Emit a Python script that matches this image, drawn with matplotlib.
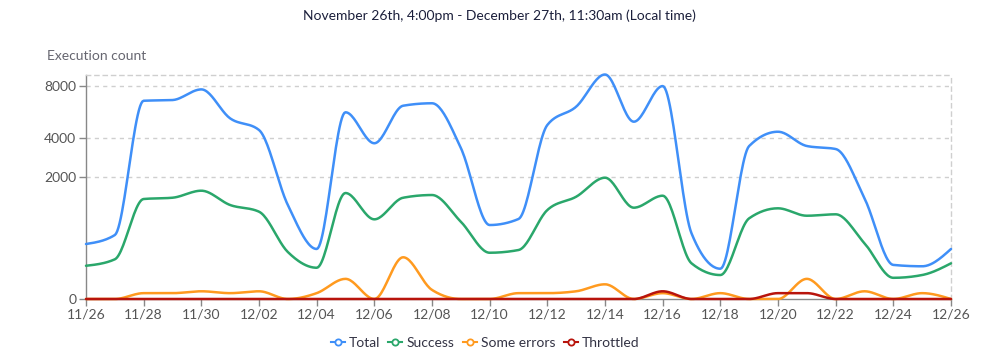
import numpy as np
import pandas as pd
import matplotlib
matplotlib.use("Agg")
import matplotlib.pyplot as plt
import matplotlib.dates as mdates
from matplotlib.lines import Line2D

# ---------------- data ----------------
dates = pd.date_range("2023-11-26", "2023-12-26", freq="D")
total = [271, 396, 6690, 6750, 7690, 5300, 4490, 1035, 214, 5760, 3660, 6280, 6480,
         3390, 569, 692, 4830, 6200, 9130, 5060, 8000, 423, 61, 3500, 4375, 3500,
         3330, 1230, 82, 74, 214]
success = [77, 120, 1209, 1248, 1476, 1035, 861, 183, 66, 1398, 685, 1248, 1333,
           635, 176, 203, 903, 1279, 1959, 963, 1311, 92, 34, 707, 947, 765,
           798, 280, 25, 34, 92]
some_errors = [0, 0, 1, 1, 2, 1, 2, 0, 1, 22, 0, 136, 3, 0, 0, 1, 1, 2, 10, 0,
               1, 0, 1, 0, 0, 22, 0, 2, 0, 1, 0]
throttled = [0] * 20 + [2, 0, 0, 0, 1, 1, 0, 0, 0, 0, 0]
series_names = ["Total", "Success", "Some errors", "Throttled"]
y_ticks = [0, 2000, 4000, 8000]
title = "November 26th, 4:00pm - December 27th, 11:30am (Local time)"
y_label = "Execution count"

colors = ["#3f8ff8", "#2aa76b", "#ff9a1f", "#b8140c"]
EXP = 0.4


def fwd(v):
    v = np.asarray(v, dtype=float)
    return np.sign(v) * np.abs(v) ** EXP


def inv(u):
    u = np.asarray(u, dtype=float)
    return np.sign(u) * np.abs(u) ** (1 / EXP)


def monotone(x, y, n=24):
    x = np.asarray(x, float)
    y = np.asarray(y, float)
    h = np.diff(x)
    s = np.diff(y) / h
    t = np.zeros(len(x))
    sg = lambda a: -1.0 if a < 0 else 1.0
    for i in range(1, len(x) - 1):
        s0, s1, h0, h1 = s[i - 1], s[i], h[i - 1], h[i]
        p = (s0 * h1 + s1 * h0) / (h0 + h1)
        t[i] = (sg(s0) + sg(s1)) * min(abs(s0), abs(s1), 0.5 * abs(p))
    t[0] = (3 * s[0] - t[1]) / 2
    t[-1] = (3 * s[-1] - t[-2]) / 2
    xs, ys = [], []
    for i in range(len(x) - 1):
        u = np.linspace(0, 1, n, endpoint=False)
        hh = h[i]
        h00 = 2 * u**3 - 3 * u**2 + 1
        h10 = u**3 - 2 * u**2 + u
        h01 = -2 * u**3 + 3 * u**2
        h11 = u**3 - u**2
        xs.append(x[i] + u * hh)
        ys.append(h00 * y[i] + h10 * hh * t[i] + h01 * y[i + 1] + h11 * hh * t[i + 1])
    xs.append([x[-1]])
    ys.append([y[-1]])
    return np.concatenate(xs), np.concatenate(ys)


plt.rcParams["font.family"] = ["Lato", "DejaVu Sans"]
FS = 10

fig = plt.figure(figsize=(9.99, 3.58), dpi=100)
ax = fig.add_axes([86 / 999, 1 - 299 / 358, (951 - 86) / 999, (299 - 74.5) / 358])
ax.set_yscale("function", functions=(fwd, inv))

xnum = mdates.date2num(dates)
for vals, c, name in zip([total, success, some_errors, throttled], colors, series_names):
    xs, us = monotone(xnum, fwd(vals))
    ax.plot(xs, np.clip(inv(us), 0, None), color=c, lw=1.8, label=name,
            solid_capstyle="round", clip_on=False, zorder=3)

ax.set_xlim(xnum[0], xnum[-1])
ax.set_ylim(0, max(total))
ax.set_yticks(y_ticks)
ax.set_yticklabels([str(v) for v in y_ticks])
ax.set_xticks(xnum[::2])
ax.xaxis.set_major_formatter(mdates.DateFormatter("%m/%d"))

for yv in y_ticks[1:]:
    ax.axhline(yv, color="#cfcfcf", lw=1, ls=(0, (3, 3)), zorder=1)

for side in ["top", "right"]:
    ax.spines[side].set_color("#cfcfcf")
    ax.spines[side].set_linestyle((0, (3, 3)))
    ax.spines[side].set_linewidth(1)
for side in ["left", "bottom"]:
    ax.spines[side].set_color("#888888")
    ax.spines[side].set_linewidth(1)

ax.tick_params(axis="both", colors="#888888", labelcolor="#555555", labelsize=FS,
               length=5, width=1, direction="out")
ax.tick_params(axis="x", pad=2)
ax.tick_params(axis="y", pad=2)

fig.text(0.5, 1 - 16 / 358, title, ha="center", va="center", fontsize=FS, color="#1b1f3b")
fig.text(47 / 999, 1 - 56 / 358, y_label, ha="left", va="center", fontsize=FS, color="#666670")

handles = [Line2D([0], [0], color=c, lw=1.5, marker="o", markersize=4.5,
                  markerfacecolor="white", markeredgewidth=1.3) for c in colors]
fig.legend(handles, series_names, loc="center", bbox_to_anchor=(485 / 999, 1 - 343 / 358),
           ncol=4, frameon=False, fontsize=FS, handlelength=1.0, handletextpad=0.3,
           columnspacing=0.6, labelcolor="#333344")

fig.savefig("out.png", dpi=100)
